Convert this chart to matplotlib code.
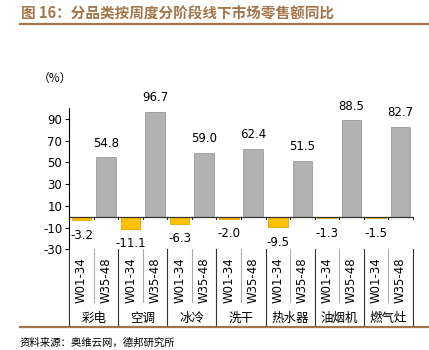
import numpy as np
import matplotlib.pyplot as plt
from matplotlib.transforms import blended_transform_factory

plt.rcParams['font.family'] = ['Noto Sans CJK SC', 'DejaVu Sans']
plt.rcParams['axes.unicode_minus'] = False

categories = ['彩电', '空调', '冰冷', '洗干', '热水器', '油烟机', '燃气灶']
periods = ['W01-34', 'W35-48']
w01_34 = [-3.2, -11.1, -6.3, -2.0, -9.5, -1.3, -1.5]
w35_48 = [54.8, 96.7, 59.0, 62.4, 51.5, 88.5, 82.7]
yticks = [-30, -10, 10, 30, 50, 70, 90]

title = '图 16：分品类按周度分阶段线下市场零售额同比'
source = '资料来源：奥维云网，德邦研究所'
brown = '#A47548'

W, H = 429, 350
fig = plt.figure(figsize=(W / 100, H / 100), dpi=100)
ax = fig.add_axes([69.3 / W, 1 - 249.3 / H, (412.7 - 69.3) / W, (249.3 - 108) / H])

n = len(categories)
x1 = np.arange(n) * 2
x2 = x1 + 1
ax.bar(x1, w01_34, width=0.8, color='#FFC000', edgecolor='#E0A800', linewidth=0.6)
ax.bar(x2, w35_48, width=0.8, color='#B2B2B2', edgecolor='#9A9A9A', linewidth=0.6)

for xs, vals in ((x1, w01_34), (x2, w35_48)):
    for x, v in zip(xs, vals):
        off = 14 if v >= 0 else -15
        ax.annotate(f'{v:.1f}', (x, v), xytext=(0, off * 0.72), textcoords='offset points',
                    ha='center', va='center', fontsize=8.5, family='DejaVu Sans')

ax.set_xlim(-0.5, 2 * n - 0.5)
ax.set_ylim(-30, 100)
ax.set_yticks(yticks)
ax.tick_params(axis='y', length=3, width=0.8, labelsize=8.5, pad=2)
for lab in ax.get_yticklabels():
    lab.set_family('DejaVu Sans')
ax.set_xticks([])
for s in ('top', 'right', 'bottom'):
    ax.spines[s].set_visible(False)
ax.spines['left'].set_linewidth(0.8)

# zero line with small ticks at every slot boundary
ax.axhline(0, color='#333333', lw=0.9)
for b in np.arange(2 * n + 1) - 0.5:
    ax.plot([b, b], [0, -2.5], color='#333333', lw=0.8, clip_on=False)

# multi-level category axis below the plot
tr = blended_transform_factory(ax.transData, fig.transFigure)
y_top = 1 - 249.3 / H
y_mid = 1 - 302 / H
y_bot = 1 - 326 / H
for g in range(n + 1):
    xb = 2 * g - 0.5
    fig.add_artist(plt.Line2D([xb, xb], [y_bot, y_top], transform=tr, color='#333333', lw=0.8))
for g in range(n):
    xb = 2 * g + 0.5
    fig.add_artist(plt.Line2D([xb, xb], [y_mid, y_top], transform=tr, color='#AAAAAA', lw=0.8))
    for k, p in enumerate(periods):
        fig.text(2 * g + k, 1 - 280 / H, p, transform=tr, rotation=90, ha='center', va='center',
                 fontsize=8.5, family='DejaVu Sans')
    fig.text(2 * g + 0.5, 1 - 318.5 / H, categories[g], transform=tr, ha='center', va='center',
             fontsize=9)

fig.text(38 / W, 1 - 78 / H, '（%）', ha='left', va='center', fontsize=8.5)
fig.text(21 / W, 1 - 13 / H, title, ha='left', va='center', fontsize=10.5, fontweight='bold', color=brown)
fig.add_artist(plt.Line2D([20 / W, 1], [1 - 23.5 / H] * 2, color=brown, lw=1.6))
fig.add_artist(plt.Line2D([20 / W, 1], [1 - 326.5 / H] * 2, color=brown, lw=1.6))
fig.text(20 / W, 1 - 343 / H, source, ha='left', va='center', fontsize=7.5)

fig.savefig('out.png', dpi=100)
